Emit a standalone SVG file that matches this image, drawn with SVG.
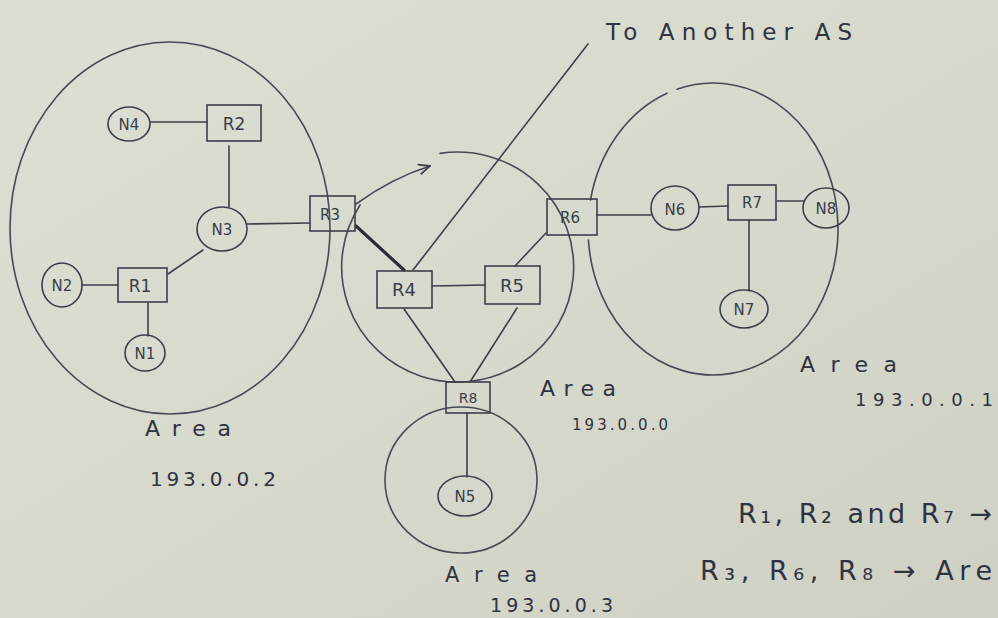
<svg xmlns="http://www.w3.org/2000/svg" width="998" height="618" viewBox="0 0 998 618">
<defs>
<linearGradient id="paper" x1="0" y1="0" x2="1" y2="1">
<stop offset="0" stop-color="#dcdfd3"/>
<stop offset="0.6" stop-color="#d5d8ca"/>
<stop offset="1" stop-color="#cdd0c2"/>
</linearGradient>
<marker id="hook" viewBox="0 0 10 10" refX="9" refY="5" markerWidth="8" markerHeight="8" orient="auto">
<path d="M0,1 L9,5 L0,9" fill="none" stroke="#3c3f4a" stroke-width="1.4"/>
</marker>
</defs>
<style>
.ln{stroke:#3c3f4a;stroke-width:1.6;fill:none;stroke-linecap:round}
.thick{stroke:#2a2d36;stroke-width:3.2;fill:none;stroke-linecap:round}
.area{stroke:#474a55;stroke-width:1.6;fill:none;stroke-linecap:round}
.box{stroke:#3c3f4a;stroke-width:1.6;fill:none}
.lbl{font-family:"DejaVu Sans","Liberation Sans",sans-serif;fill:#3a3d4a;font-size:15px;text-anchor:middle}
.hand{font-family:"DejaVu Sans","Liberation Sans",sans-serif;fill:#2f3240}
</style>
<rect x="0" y="0" width="998" height="618" fill="url(#paper)"/>

<g id="areas">
<ellipse class="area" cx="170" cy="228" rx="160" ry="186"/>
<path class="area" d="M440,153.4 A116,115 0 1 1 360,205"/>
<path class="area" d="M356,204 Q392,178 430,166" marker-end="url(#hook)"/>
<path class="area" d="M677,89.2 A125,146 0 1 1 588.4,240"/>
<path class="area" d="M590.5,200 A125,146 0 0 1 667,93.2"/>
<ellipse class="area" cx="461" cy="480" rx="76" ry="73"/>
</g>

<g id="connectors">
<line class="ln" x1="150" y1="122" x2="207" y2="122"/>
<line class="ln" x1="229" y1="146" x2="229" y2="207"/>
<line class="ln" x1="247" y1="224" x2="310" y2="223"/>
<line class="ln" x1="203" y1="250" x2="168" y2="274"/>
<line class="ln" x1="82" y1="285" x2="118" y2="285"/>
<line class="ln" x1="148" y1="303" x2="148" y2="336"/>
<line class="thick" x1="356" y1="226" x2="404" y2="270"/>
<line class="ln" x1="413" y1="270" x2="588" y2="44"/>
<line class="ln" x1="432" y1="286" x2="485" y2="285"/>
<line class="ln" x1="515" y1="266" x2="546" y2="233"/>
<line class="ln" x1="404" y1="309" x2="455" y2="382"/>
<line class="ln" x1="517" y1="308" x2="470" y2="382"/>
<line class="ln" x1="467" y1="413" x2="467" y2="477"/>
<line class="ln" x1="597" y1="215" x2="651" y2="215"/>
<line class="ln" x1="699" y1="207" x2="728" y2="206"/>
<line class="ln" x1="777" y1="201" x2="804" y2="201"/>
<line class="ln" x1="749" y1="220" x2="749" y2="291"/>
</g>

<g id="N4"><ellipse class="box" cx="129" cy="124" rx="21" ry="17"/><text class="lbl" x="129" y="130">N4</text></g>
<g id="R2"><rect class="box" x="207" y="105" width="54" height="36"/><text class="lbl" x="234" y="130" style="font-size:17px">R2</text></g>
<g id="N3"><ellipse class="box" cx="222" cy="229" rx="25" ry="22"/><text class="lbl" x="222" y="235">N3</text></g>
<g id="R3"><rect class="box" x="310" y="196" width="45" height="35"/><text class="lbl" x="330" y="220">R3</text></g>
<g id="R1"><rect class="box" x="118" y="268" width="49" height="34"/><text class="lbl" x="140" y="292" style="font-size:17px">R1</text></g>
<g id="N2"><ellipse class="box" cx="62" cy="285" rx="20" ry="22"/><text class="lbl" x="62" y="291">N2</text></g>
<g id="N1"><ellipse class="box" cx="145" cy="353" rx="20" ry="18"/><text class="lbl" x="145" y="359">N1</text></g>
<g id="R4"><rect class="box" x="377" y="271" width="55" height="37"/><text class="lbl" x="404" y="296" style="font-size:18px">R4</text></g>
<g id="R5"><rect class="box" x="485" y="266" width="55" height="38"/><text class="lbl" x="512" y="292" style="font-size:18px">R5</text></g>
<g id="R6"><rect class="box" x="547" y="199" width="50" height="36"/><text class="lbl" x="570" y="223">R6</text></g>
<g id="R8"><rect class="box" x="446" y="382" width="44" height="31"/><text class="lbl" x="468" y="403" style="font-size:14px">R8</text></g>
<g id="N5"><ellipse class="box" cx="465" cy="496" rx="27" ry="20"/><text class="lbl" x="465" y="502">N5</text></g>
<g id="N6"><ellipse class="box" cx="675" cy="208" rx="24" ry="22"/><text class="lbl" x="675" y="215">N6</text></g>
<g id="R7"><rect class="box" x="728" y="185" width="48" height="35"/><text class="lbl" x="752" y="208">R7</text></g>
<g id="N8"><ellipse class="box" cx="826" cy="208" rx="23" ry="20"/><text class="lbl" x="826" y="214">N8</text></g>
<g id="N7"><ellipse class="box" cx="744" cy="309" rx="24" ry="19"/><text class="lbl" x="744" y="315">N7</text></g>

<g id="labels">
<text class="hand" x="606" y="40" font-size="23" textLength="246" lengthAdjust="spacing">To Another AS</text>
<text class="hand" x="145" y="436" font-size="22" textLength="86" lengthAdjust="spacing">Area</text>
<text class="hand" x="150" y="486" font-size="20" textLength="126" lengthAdjust="spacing">193.0.0.2</text>
<text class="hand" x="540" y="396" font-size="22" textLength="76" lengthAdjust="spacing">Area</text>
<text class="hand" x="572" y="430" font-size="15" textLength="96" lengthAdjust="spacing">193.0.0.0</text>
<text class="hand" x="800" y="372" font-size="22" textLength="97" lengthAdjust="spacing">Area</text>
<text class="hand" x="855" y="406" font-size="18" textLength="138" lengthAdjust="spacing">193.0.0.1</text>
<text class="hand" x="738" y="523" font-size="27" textLength="254" lengthAdjust="spacing">R₁, R₂ and R₇ →</text>
<text class="hand" x="700" y="580" font-size="27" textLength="292" lengthAdjust="spacing">R₃, R₆, R₈ → Are</text>
<text class="hand" x="445" y="582" font-size="21" textLength="92" lengthAdjust="spacing">Area</text>
<text class="hand" x="490" y="612" font-size="19" textLength="123" lengthAdjust="spacing">193.0.0.3</text>
</g>
</svg>
